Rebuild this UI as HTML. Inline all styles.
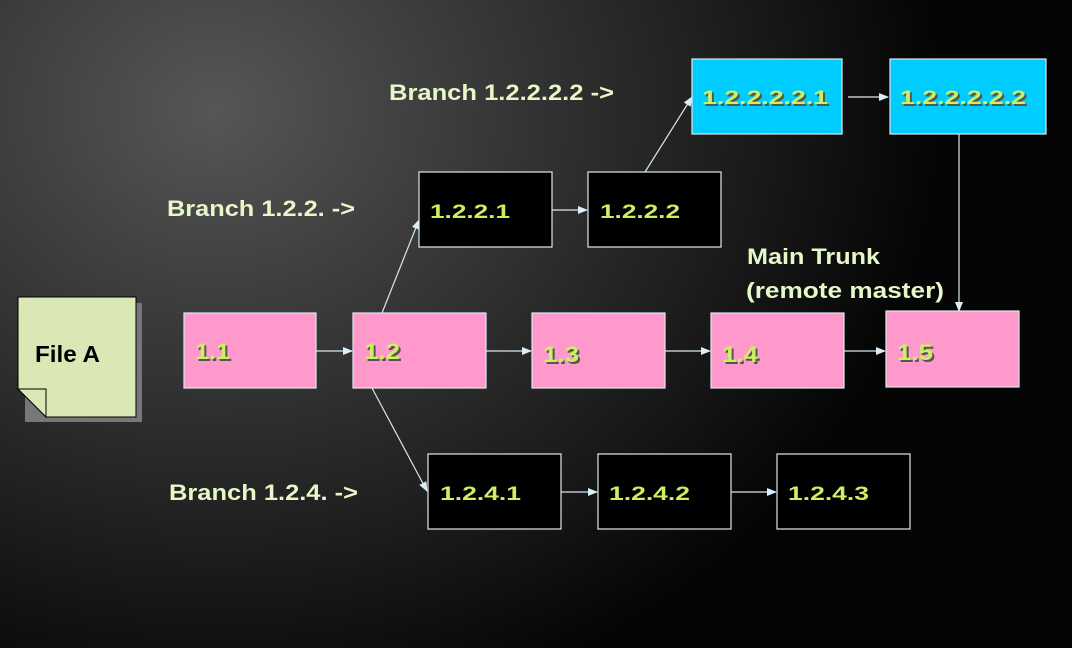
<!DOCTYPE html>
<html><head><meta charset="utf-8"><style>
html,body{margin:0;padding:0;}
body{width:1072px;height:648px;overflow:hidden;background:radial-gradient(ellipse 720px 620px at 215px 110px,#565656 0%,#3a3a3a 35%,#222 65%,#050505 100%);}
svg{position:absolute;left:0;top:0;}
.n{font-family:"Liberation Sans",sans-serif;font-weight:bold;font-size:19px;fill:#ccf060;}
.ns{font-family:"Liberation Sans",sans-serif;font-weight:bold;font-size:19px;fill:#555;}
.big{font-size:22px;}
.l{font-family:"Liberation Sans",sans-serif;font-weight:bold;font-size:22px;fill:#e6f8c8;}
</style></head><body>
<svg width="1072" height="648" viewBox="0 0 1072 648">
<defs><marker id="a" markerWidth="10" markerHeight="8" refX="9" refY="4" orient="auto" markerUnits="userSpaceOnUse"><path d="M0,0 L10,4 L0,8z" fill="#d8eef8"/></marker></defs>
<g stroke="#d8e8f0" stroke-width="1.2" fill="none" marker-end="url(#a)">
<line x1="316" y1="351" x2="352" y2="351"/>
<line x1="486" y1="351" x2="531" y2="351"/>
<line x1="665" y1="351" x2="710" y2="351"/>
<line x1="844" y1="351" x2="885" y2="351"/>
<line x1="382" y1="313" x2="419" y2="220"/>
<line x1="372" y1="388" x2="427" y2="491"/>
<line x1="552" y1="210" x2="587" y2="210"/>
<line x1="645" y1="172" x2="692" y2="97"/>
<line x1="848" y1="97" x2="888" y2="97"/>
<line x1="959" y1="134" x2="959" y2="311"/>
<line x1="561" y1="492" x2="597" y2="492"/>
<line x1="731" y1="492" x2="776" y2="492"/>
</g>
<rect x="25" y="303" width="117" height="119" fill="#777"/>
<path d="M18,297 H136 V417 H46 L18,389 Z" fill="#d9e8b4" stroke="#000" stroke-width="1"/>
<path d="M18,389 H46 V417 Z" fill="#d9e8b4" stroke="#000" stroke-width="1"/>
<text x="35" y="362" font-family="Liberation Sans,sans-serif" font-weight="bold" font-size="23" fill="#000" textLength="65" lengthAdjust="spacingAndGlyphs">File A</text>
<g stroke="#dde8ee" stroke-width="1.2">
<rect x="184" y="313" width="132" height="75" fill="#ff99cc"/>
<rect x="353" y="313" width="133" height="75" fill="#ff99cc"/>
<rect x="532" y="313" width="133" height="75" fill="#ff99cc"/>
<rect x="711" y="313" width="133" height="75" fill="#ff99cc"/>
<rect x="886" y="311" width="133" height="76" fill="#ff99cc"/>
<rect x="419" y="172" width="133" height="75" fill="#000"/>
<rect x="588" y="172" width="133" height="75" fill="#000"/>
<rect x="692" y="59" width="150" height="75" fill="#00ccff"/>
<rect x="890" y="59" width="156" height="75" fill="#00ccff"/>
<rect x="428" y="454" width="133" height="75" fill="#000"/>
<rect x="598" y="454" width="133" height="75" fill="#000"/>
<rect x="777" y="454" width="133" height="75" fill="#000"/>
</g>
<g class="ns">
<text class="big" x="197" y="361" textLength="35" lengthAdjust="spacingAndGlyphs">1.1</text>
<text class="big" x="366" y="361" textLength="36" lengthAdjust="spacingAndGlyphs">1.2</text>
<text class="big" x="545" y="364" textLength="36" lengthAdjust="spacingAndGlyphs">1.3</text>
<text class="big" x="724" y="364" textLength="36" lengthAdjust="spacingAndGlyphs">1.4</text>
<text class="big" x="899" y="362" textLength="36" lengthAdjust="spacingAndGlyphs">1.5</text>
<text x="704" y="106" textLength="126" lengthAdjust="spacingAndGlyphs">1.2.2.2.2.1</text>
<text x="902" y="106" textLength="126" lengthAdjust="spacingAndGlyphs">1.2.2.2.2.2</text>
</g>
<g class="n">
<text class="big" x="195" y="359" textLength="35" lengthAdjust="spacingAndGlyphs">1.1</text>
<text class="big" x="364" y="359" textLength="36" lengthAdjust="spacingAndGlyphs">1.2</text>
<text class="big" x="543" y="362" textLength="36" lengthAdjust="spacingAndGlyphs">1.3</text>
<text class="big" x="722" y="362" textLength="36" lengthAdjust="spacingAndGlyphs">1.4</text>
<text class="big" x="897" y="360" textLength="36" lengthAdjust="spacingAndGlyphs">1.5</text>
<text x="702" y="104" textLength="126" lengthAdjust="spacingAndGlyphs">1.2.2.2.2.1</text>
<text x="900" y="104" textLength="126" lengthAdjust="spacingAndGlyphs">1.2.2.2.2.2</text>
<text x="430" y="218" textLength="80" lengthAdjust="spacingAndGlyphs">1.2.2.1</text>
<text x="600" y="218" textLength="80" lengthAdjust="spacingAndGlyphs">1.2.2.2</text>
<text x="440" y="500" textLength="81" lengthAdjust="spacingAndGlyphs">1.2.4.1</text>
<text x="609" y="500" textLength="81" lengthAdjust="spacingAndGlyphs">1.2.4.2</text>
<text x="788" y="500" textLength="81" lengthAdjust="spacingAndGlyphs">1.2.4.3</text>
</g>
<g class="l">
<text x="389" y="100" textLength="225" lengthAdjust="spacingAndGlyphs">Branch 1.2.2.2.2 -&gt;</text>
<text x="167" y="216" textLength="188" lengthAdjust="spacingAndGlyphs">Branch 1.2.2. -&gt;</text>
<text x="169" y="500" textLength="189" lengthAdjust="spacingAndGlyphs">Branch 1.2.4. -&gt;</text>
<text x="747" y="264" textLength="133" lengthAdjust="spacingAndGlyphs">Main Trunk</text>
<text x="746" y="298" textLength="198" lengthAdjust="spacingAndGlyphs">(remote master)</text>
</g>
</svg>
</body></html>
